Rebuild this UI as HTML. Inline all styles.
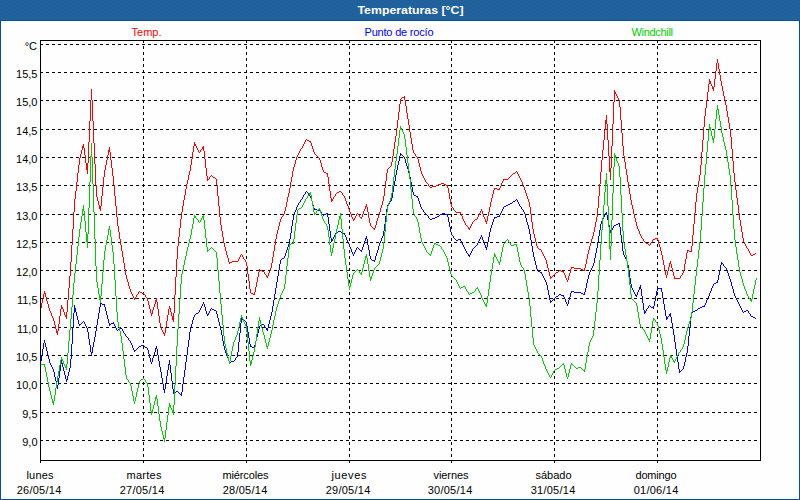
<!DOCTYPE html>
<html lang="es"><head><meta charset="utf-8"><title>Temperaturas [°C]</title>
<style>
html,body{margin:0;padding:0;background:#fff;}
body{width:800px;height:500px;overflow:hidden;position:relative;font-family:"Liberation Sans",sans-serif;}
svg{position:absolute;left:0;top:0;display:block;}
text{font-family:"Liberation Sans",sans-serif;font-size:11px;}
.t{font-weight:bold;fill:#fff;}
.k{fill:#000;}
</style></head><body>
<svg width="800" height="500" viewBox="0 0 800 500">
<rect x="0" y="0" width="800" height="500" fill="#0b5191"/>
<rect x="1" y="21" width="798" height="478" fill="#fdfefd"/>
<defs><pattern id="dz" width="8" height="4" patternUnits="userSpaceOnUse"><rect width="8" height="4" fill="#1f6198"/><rect x="1" y="0" width="1" height="1" fill="#1f64ad"/><rect x="4" y="1" width="1" height="1" fill="#1f64ad"/><rect x="6" y="2" width="1" height="1" fill="#1f64ad"/><rect x="2" y="3" width="1" height="1" fill="#1f64ad"/></pattern></defs>
<rect x="0" y="0" width="800" height="20" fill="url(#dz)" shape-rendering="crispEdges"/>
<text class="t" x="357.5" y="14" textLength="106" lengthAdjust="spacingAndGlyphs">Temperaturas [°C]</text>
<g shape-rendering="crispEdges" fill="none">
<line x1="40" y1="44.5" x2="760" y2="44.5" stroke="#000" stroke-width="1" stroke-dasharray="3 3"/>
<line x1="40" y1="72.5" x2="760" y2="72.5" stroke="#000" stroke-width="1" stroke-dasharray="3 3"/>
<line x1="40" y1="100.5" x2="760" y2="100.5" stroke="#000" stroke-width="1" stroke-dasharray="3 3"/>
<line x1="40" y1="129.5" x2="760" y2="129.5" stroke="#000" stroke-width="1" stroke-dasharray="3 3"/>
<line x1="40" y1="157.5" x2="760" y2="157.5" stroke="#000" stroke-width="1" stroke-dasharray="3 3"/>
<line x1="40" y1="185.5" x2="760" y2="185.5" stroke="#000" stroke-width="1" stroke-dasharray="3 3"/>
<line x1="40" y1="214.5" x2="760" y2="214.5" stroke="#000" stroke-width="1" stroke-dasharray="3 3"/>
<line x1="40" y1="242.5" x2="760" y2="242.5" stroke="#000" stroke-width="1" stroke-dasharray="3 3"/>
<line x1="40" y1="270.5" x2="760" y2="270.5" stroke="#000" stroke-width="1" stroke-dasharray="3 3"/>
<line x1="40" y1="298.5" x2="760" y2="298.5" stroke="#000" stroke-width="1" stroke-dasharray="3 3"/>
<line x1="40" y1="327.5" x2="760" y2="327.5" stroke="#000" stroke-width="1" stroke-dasharray="3 3"/>
<line x1="40" y1="355.5" x2="760" y2="355.5" stroke="#000" stroke-width="1" stroke-dasharray="3 3"/>
<line x1="40" y1="383.5" x2="760" y2="383.5" stroke="#000" stroke-width="1" stroke-dasharray="3 3"/>
<line x1="40" y1="412.5" x2="760" y2="412.5" stroke="#000" stroke-width="1" stroke-dasharray="3 3"/>
<line x1="40" y1="440.5" x2="760" y2="440.5" stroke="#000" stroke-width="1" stroke-dasharray="3 3"/>
<line x1="143.5" y1="40" x2="143.5" y2="460" stroke="#000" stroke-width="1" stroke-dasharray="3 3"/>
<line x1="143.5" y1="461" x2="143.5" y2="463" stroke="#000" stroke-width="1"/>
<line x1="246.5" y1="40" x2="246.5" y2="460" stroke="#000" stroke-width="1" stroke-dasharray="3 3"/>
<line x1="246.5" y1="461" x2="246.5" y2="463" stroke="#000" stroke-width="1"/>
<line x1="349.5" y1="40" x2="349.5" y2="460" stroke="#000" stroke-width="1" stroke-dasharray="3 3"/>
<line x1="349.5" y1="461" x2="349.5" y2="463" stroke="#000" stroke-width="1"/>
<line x1="451.5" y1="40" x2="451.5" y2="460" stroke="#000" stroke-width="1" stroke-dasharray="3 3"/>
<line x1="451.5" y1="461" x2="451.5" y2="463" stroke="#000" stroke-width="1"/>
<line x1="554.5" y1="40" x2="554.5" y2="460" stroke="#000" stroke-width="1" stroke-dasharray="3 3"/>
<line x1="554.5" y1="461" x2="554.5" y2="463" stroke="#000" stroke-width="1"/>
<line x1="657.5" y1="40" x2="657.5" y2="460" stroke="#000" stroke-width="1" stroke-dasharray="3 3"/>
<line x1="657.5" y1="461" x2="657.5" y2="463" stroke="#000" stroke-width="1"/>
<line x1="40.5" y1="461" x2="40.5" y2="463" stroke="#000" stroke-width="1"/>
<path fill="#ff0000" d="M41 303h1v5h-1zM42 299h1v4h-1zM43 294h1v5h-1zM44 291h1v3h-1zM45 293h1v4h-1zM46 297h1v4h-1zM47 301h1v3h-1zM48 304h1v4h-1zM49 308h1v3h-1zM50 311h1v2h-1zM51 313h1v3h-1zM52 316h1v2h-1zM53 318h1v3h-1zM54 321h1v4h-1zM55 325h1v4h-1zM56 329h1v4h-1zM57 331h1v4h-1zM58 324h1v7h-1zM59 316h1v8h-1zM60 309h1v7h-1zM61 305h1v4h-1zM62 307h1v2h-1zM63 309h1v3h-1zM64 312h1v3h-1zM65 315h1v2h-1zM66 312h1v7h-1zM67 300h1v12h-1zM68 288h1v12h-1zM69 276h1v12h-1zM70 262h1v14h-1zM71 245h1v17h-1zM72 229h1v16h-1zM73 212h1v17h-1zM74 199h1v13h-1zM75 191h1v8h-1zM76 182h1v9h-1zM77 173h1v9h-1zM78 165h1v8h-1zM79 158h1v7h-1zM80 154h1v4h-1zM81 150h1v4h-1zM82 146h1v4h-1zM83 144h1v4h-1zM84 148h1v7h-1zM85 155h1v8h-1zM86 163h1v7h-1zM87 163h1v11h-1zM88 142h1v21h-1zM89 121h1v21h-1zM90 100h1v21h-1zM91 89h1v11h-1zM92 100h1v21h-1zM93 121h1v22h-1zM94 143h1v21h-1zM95 164h1v21h-1zM96 185h1v12h-1zM97 197h1v4h-1zM98 201h1v4h-1zM99 205h1v4h-1zM100 206h1v5h-1zM101 196h1v10h-1zM102 187h1v9h-1zM103 177h1v10h-1zM104 170h1v7h-1zM105 165h1v5h-1zM106 160h1v5h-1zM107 155h1v5h-1zM108 150h1v5h-1zM109 147h1v5h-1zM110 152h1v8h-1zM111 160h1v8h-1zM112 168h1v8h-1zM113 176h1v9h-1zM114 185h1v11h-1zM115 196h1v10h-1zM116 206h1v11h-1zM117 217h1v9h-1zM118 226h1v6h-1zM119 232h1v7h-1zM120 239h1v6h-1zM121 245h1v6h-1zM122 251h1v6h-1zM123 257h1v6h-1zM124 263h1v6h-1zM125 269h1v6h-1zM126 275h1v4h-1zM127 279h1v3h-1zM128 282h1v4h-1zM129 286h1v3h-1zM130 289h1v3h-1zM131 292h1v2h-1zM132 294h1v2h-1zM133 296h1v2h-1zM134 298h1v2h-1zM135 297h1v2h-1zM136 295h1v2h-1zM137 294h1v1h-1zM138 292h1v2h-1zM139 291h1v1h-1zM140 292h1v1h-1zM141 292h1v1h-1zM142 293h1v1h-1zM143 293h1v1h-1zM144 294h1v1h-1zM145 295h1v2h-1zM146 297h1v1h-1zM147 298h1v3h-1zM148 301h1v4h-1zM149 305h1v4h-1zM150 309h1v4h-1zM151 313h1v3h-1zM152 310h1v4h-1zM153 307h1v3h-1zM154 304h1v3h-1zM155 300h1v4h-1zM156 298h1v4h-1zM157 302h1v7h-1zM158 309h1v7h-1zM159 316h1v7h-1zM160 323h1v5h-1zM161 328h1v2h-1zM162 330h1v2h-1zM163 332h1v2h-1zM164 333h1v3h-1zM165 327h1v6h-1zM166 321h1v6h-1zM167 315h1v6h-1zM168 309h1v6h-1zM169 306h1v3h-1zM170 308h1v4h-1zM171 312h1v4h-1zM172 316h1v4h-1zM173 313h1v9h-1zM174 295h1v18h-1zM175 277h1v18h-1zM176 259h1v18h-1zM177 246h1v13h-1zM178 237h1v9h-1zM179 228h1v9h-1zM180 219h1v9h-1zM181 212h1v7h-1zM182 206h1v6h-1zM183 200h1v6h-1zM184 195h1v5h-1zM185 189h1v6h-1zM186 184h1v5h-1zM187 180h1v4h-1zM188 175h1v5h-1zM189 171h1v4h-1zM190 165h1v6h-1zM191 159h1v6h-1zM192 152h1v7h-1zM193 146h1v6h-1zM194 142h1v4h-1zM195 144h1v2h-1zM196 146h1v2h-1zM197 148h1v2h-1zM198 150h1v2h-1zM199 152h1v1h-1zM200 150h1v2h-1zM201 149h1v1h-1zM202 147h1v2h-1zM203 146h1v5h-1zM204 151h1v8h-1zM205 159h1v9h-1zM206 168h1v8h-1zM207 176h1v5h-1zM208 179h1v1h-1zM209 177h1v2h-1zM210 176h1v1h-1zM211 175h1v1h-1zM212 176h1v1h-1zM213 177h1v1h-1zM214 177h1v1h-1zM215 178h1v1h-1zM216 179h1v6h-1zM217 185h1v11h-1zM218 196h1v10h-1zM219 206h1v11h-1zM220 217h1v8h-1zM221 225h1v6h-1zM222 231h1v6h-1zM223 237h1v6h-1zM224 243h1v4h-1zM225 247h1v4h-1zM226 251h1v4h-1zM227 255h1v3h-1zM228 258h1v4h-1zM229 262h1v2h-1zM230 262h1v1h-1zM231 262h1v1h-1zM232 261h1v1h-1zM233 261h1v1h-1zM234 261h1v1h-1zM235 261h1v1h-1zM236 261h1v1h-1zM237 261h1v1h-1zM238 259h1v2h-1zM239 257h1v2h-1zM240 255h1v2h-1zM241 254h1v1h-1zM242 255h1v2h-1zM243 257h1v2h-1zM244 259h1v1h-1zM245 260h1v2h-1zM246 262h1v4h-1zM247 266h1v8h-1zM248 274h1v7h-1zM249 281h1v8h-1zM250 289h1v4h-1zM251 293h1v1h-1zM252 293h1v1h-1zM253 294h1v1h-1zM254 292h1v3h-1zM255 287h1v5h-1zM256 282h1v5h-1zM257 277h1v5h-1zM258 272h1v5h-1zM259 269h1v3h-1zM260 270h1v1h-1zM261 270h1v1h-1zM262 271h1v1h-1zM263 271h1v1h-1zM264 272h1v2h-1zM265 274h1v1h-1zM266 275h1v2h-1zM267 276h1v2h-1zM268 273h1v3h-1zM269 271h1v2h-1zM270 268h1v3h-1zM271 263h1v5h-1zM272 257h1v6h-1zM273 251h1v6h-1zM274 245h1v6h-1zM275 239h1v6h-1zM276 234h1v5h-1zM277 230h1v4h-1zM278 226h1v4h-1zM279 222h1v4h-1zM280 219h1v3h-1zM281 217h1v2h-1zM282 216h1v1h-1zM283 214h1v2h-1zM284 211h1v3h-1zM285 207h1v4h-1zM286 202h1v5h-1zM287 197h1v5h-1zM288 193h1v4h-1zM289 188h1v5h-1zM290 182h1v6h-1zM291 177h1v5h-1zM292 171h1v6h-1zM293 167h1v4h-1zM294 164h1v3h-1zM295 160h1v4h-1zM296 157h1v3h-1zM297 155h1v2h-1zM298 153h1v2h-1zM299 151h1v2h-1zM300 149h1v2h-1zM301 148h1v1h-1zM302 146h1v2h-1zM303 144h1v2h-1zM304 142h1v2h-1zM305 140h1v2h-1zM306 139h1v1h-1zM307 140h1v1h-1zM308 140h1v1h-1zM309 141h1v1h-1zM310 141h1v2h-1zM311 143h1v3h-1zM312 146h1v3h-1zM313 149h1v3h-1zM314 152h1v2h-1zM315 154h1v1h-1zM316 155h1v1h-1zM317 156h1v1h-1zM318 157h1v1h-1zM319 158h1v2h-1zM320 160h1v3h-1zM321 163h1v4h-1zM322 167h1v3h-1zM323 170h1v2h-1zM324 172h1v1h-1zM325 172h1v1h-1zM326 173h1v1h-1zM327 173h1v4h-1zM328 177h1v7h-1zM329 184h1v7h-1zM330 191h1v7h-1zM331 198h1v4h-1zM332 199h1v2h-1zM333 197h1v2h-1zM334 196h1v1h-1zM335 194h1v2h-1zM336 193h1v1h-1zM337 192h1v1h-1zM338 192h1v1h-1zM339 191h1v1h-1zM340 191h1v1h-1zM341 192h1v1h-1zM342 193h1v2h-1zM343 195h1v1h-1zM344 196h1v2h-1zM345 198h1v3h-1zM346 201h1v3h-1zM347 204h1v2h-1zM348 206h1v3h-1zM349 209h1v3h-1zM350 212h1v2h-1zM351 214h1v3h-1zM352 217h1v2h-1zM353 219h1v2h-1zM354 218h1v2h-1zM355 216h1v2h-1zM356 214h1v2h-1zM357 213h1v1h-1zM358 214h1v1h-1zM359 215h1v2h-1zM360 217h1v1h-1zM361 217h1v2h-1zM362 214h1v3h-1zM363 211h1v3h-1zM364 209h1v2h-1zM365 206h1v3h-1zM366 204h1v3h-1zM367 207h1v5h-1zM368 212h1v6h-1zM369 218h1v5h-1zM370 223h1v3h-1zM371 226h1v1h-1zM372 227h1v1h-1zM373 228h1v1h-1zM374 228h1v2h-1zM375 225h1v3h-1zM376 221h1v4h-1zM377 218h1v3h-1zM378 215h1v3h-1zM379 212h1v3h-1zM380 208h1v4h-1zM381 205h1v3h-1zM382 201h1v4h-1zM383 196h1v5h-1zM384 188h1v8h-1zM385 181h1v7h-1zM386 173h1v8h-1zM387 169h1v4h-1zM388 168h1v1h-1zM389 167h1v1h-1zM390 166h1v1h-1zM391 162h1v4h-1zM392 156h1v6h-1zM393 149h1v7h-1zM394 142h1v7h-1zM395 136h1v6h-1zM396 128h1v8h-1zM397 120h1v8h-1zM398 112h1v8h-1zM399 104h1v8h-1zM400 99h1v5h-1zM401 98h1v1h-1zM402 97h1v1h-1zM403 97h1v1h-1zM404 96h1v4h-1zM405 100h1v6h-1zM406 106h1v7h-1zM407 113h1v6h-1zM408 119h1v6h-1zM409 125h1v7h-1zM410 132h1v6h-1zM411 138h1v6h-1zM412 144h1v6h-1zM413 150h1v3h-1zM414 153h1v1h-1zM415 154h1v2h-1zM416 156h1v1h-1zM417 157h1v2h-1zM418 159h1v4h-1zM419 163h1v4h-1zM420 167h1v4h-1zM421 171h1v3h-1zM422 174h1v2h-1zM423 176h1v2h-1zM424 178h1v2h-1zM425 180h1v2h-1zM426 182h1v1h-1zM427 183h1v1h-1zM428 184h1v2h-1zM429 186h1v1h-1zM430 187h1v1h-1zM431 187h1v1h-1zM432 186h1v1h-1zM433 186h1v1h-1zM434 186h1v1h-1zM435 186h1v1h-1zM436 185h1v1h-1zM437 185h1v1h-1zM438 184h1v1h-1zM439 184h1v1h-1zM440 184h1v1h-1zM441 183h1v1h-1zM442 183h1v1h-1zM443 183h1v1h-1zM444 184h1v1h-1zM445 184h1v1h-1zM446 185h1v1h-1zM447 185h1v3h-1zM448 188h1v5h-1zM449 193h1v6h-1zM450 199h1v5h-1zM451 204h1v3h-1zM452 207h1v1h-1zM453 208h1v2h-1zM454 210h1v1h-1zM455 211h1v1h-1zM456 212h1v1h-1zM457 212h1v1h-1zM458 212h1v1h-1zM459 212h1v1h-1zM460 212h1v2h-1zM461 214h1v2h-1zM462 216h1v3h-1zM463 219h1v2h-1zM464 221h1v2h-1zM465 223h1v2h-1zM466 225h1v1h-1zM467 226h1v1h-1zM468 227h1v2h-1zM469 228h1v2h-1zM470 226h1v2h-1zM471 224h1v2h-1zM472 222h1v2h-1zM473 221h1v1h-1zM474 220h1v1h-1zM475 219h1v1h-1zM476 219h1v1h-1zM477 217h1v2h-1zM478 215h1v2h-1zM479 213h1v2h-1zM480 211h1v2h-1zM481 209h1v2h-1zM482 211h1v3h-1zM483 214h1v3h-1zM484 217h1v2h-1zM485 219h1v3h-1zM486 221h1v3h-1zM487 216h1v5h-1zM488 212h1v4h-1zM489 207h1v5h-1zM490 202h1v5h-1zM491 198h1v4h-1zM492 194h1v4h-1zM493 190h1v4h-1zM494 188h1v2h-1zM495 188h1v1h-1zM496 188h1v1h-1zM497 189h1v1h-1zM498 189h1v1h-1zM499 188h1v2h-1zM500 186h1v2h-1zM501 183h1v3h-1zM502 181h1v2h-1zM503 179h1v2h-1zM504 179h1v1h-1zM505 179h1v1h-1zM506 179h1v1h-1zM507 179h1v1h-1zM508 178h1v1h-1zM509 177h1v1h-1zM510 176h1v1h-1zM511 175h1v1h-1zM512 174h1v1h-1zM513 173h1v1h-1zM514 173h1v1h-1zM515 172h1v1h-1zM516 171h1v1h-1zM517 172h1v2h-1zM518 174h1v2h-1zM519 176h1v2h-1zM520 178h1v2h-1zM521 180h1v2h-1zM522 182h1v3h-1zM523 185h1v2h-1zM524 187h1v3h-1zM525 190h1v3h-1zM526 193h1v3h-1zM527 196h1v3h-1zM528 199h1v3h-1zM529 202h1v5h-1zM530 207h1v7h-1zM531 214h1v8h-1zM532 222h1v7h-1zM533 229h1v5h-1zM534 234h1v4h-1zM535 238h1v4h-1zM536 242h1v4h-1zM537 246h1v2h-1zM538 248h1v1h-1zM539 249h1v1h-1zM540 249h1v1h-1zM541 250h1v2h-1zM542 252h1v2h-1zM543 254h1v2h-1zM544 256h1v2h-1zM545 258h1v2h-1zM546 260h1v4h-1zM547 264h1v4h-1zM548 268h1v4h-1zM549 272h1v4h-1zM550 276h1v3h-1zM551 277h1v1h-1zM552 276h1v1h-1zM553 275h1v1h-1zM554 274h1v1h-1zM555 273h1v1h-1zM556 272h1v1h-1zM557 272h1v1h-1zM558 271h1v1h-1zM559 270h1v1h-1zM560 270h1v1h-1zM561 271h1v1h-1zM562 271h1v1h-1zM563 271h1v2h-1zM564 273h1v2h-1zM565 275h1v3h-1zM566 278h1v2h-1zM567 280h1v2h-1zM568 276h1v4h-1zM569 273h1v3h-1zM570 269h1v4h-1zM571 267h1v2h-1zM572 267h1v1h-1zM573 267h1v1h-1zM574 268h1v1h-1zM575 268h1v1h-1zM576 268h1v1h-1zM577 268h1v1h-1zM578 268h1v1h-1zM579 268h1v1h-1zM580 268h1v1h-1zM581 269h1v1h-1zM582 269h1v1h-1zM583 270h1v1h-1zM584 268h1v3h-1zM585 264h1v4h-1zM586 259h1v5h-1zM587 254h1v5h-1zM588 250h1v4h-1zM589 246h1v4h-1zM590 243h1v3h-1zM591 239h1v4h-1zM592 236h1v3h-1zM593 232h1v4h-1zM594 227h1v5h-1zM595 222h1v5h-1zM596 217h1v5h-1zM597 208h1v9h-1zM598 196h1v12h-1zM599 184h1v12h-1zM600 172h1v12h-1zM601 160h1v12h-1zM602 150h1v10h-1zM603 140h1v10h-1zM604 130h1v10h-1zM605 120h1v10h-1zM606 115h1v9h-1zM607 124h1v16h-1zM608 140h1v16h-1zM609 156h1v16h-1zM610 168h1v12h-1zM611 146h1v22h-1zM612 124h1v22h-1zM613 102h1v22h-1zM614 90h1v12h-1zM615 92h1v2h-1zM616 94h1v2h-1zM617 96h1v2h-1zM618 98h1v2h-1zM619 100h1v7h-1zM620 107h1v13h-1zM621 120h1v13h-1zM622 133h1v13h-1zM623 146h1v10h-1zM624 156h1v6h-1zM625 162h1v7h-1zM626 169h1v6h-1zM627 175h1v7h-1zM628 182h1v6h-1zM629 188h1v6h-1zM630 194h1v6h-1zM631 200h1v5h-1zM632 205h1v4h-1zM633 209h1v5h-1zM634 214h1v4h-1zM635 218h1v4h-1zM636 222h1v4h-1zM637 226h1v3h-1zM638 229h1v2h-1zM639 231h1v3h-1zM640 234h1v2h-1zM641 236h1v2h-1zM642 238h1v1h-1zM643 239h1v2h-1zM644 241h1v1h-1zM645 242h1v1h-1zM646 243h1v1h-1zM647 243h1v1h-1zM648 244h1v1h-1zM649 245h1v1h-1zM650 243h1v2h-1zM651 242h1v1h-1zM652 240h1v2h-1zM653 239h1v1h-1zM654 239h1v1h-1zM655 238h1v1h-1zM656 238h1v1h-1zM657 238h1v2h-1zM658 240h1v4h-1zM659 244h1v3h-1zM660 247h1v4h-1zM661 251h1v4h-1zM662 255h1v5h-1zM663 260h1v5h-1zM664 265h1v5h-1zM665 270h1v5h-1zM666 275h1v3h-1zM667 271h1v4h-1zM668 267h1v4h-1zM669 263h1v4h-1zM670 261h1v3h-1zM671 264h1v4h-1zM672 268h1v4h-1zM673 272h1v4h-1zM674 276h1v3h-1zM675 278h1v1h-1zM676 278h1v1h-1zM677 278h1v1h-1zM678 278h1v1h-1zM679 278h1v1h-1zM680 276h1v2h-1zM681 275h1v1h-1zM682 273h1v2h-1zM683 270h1v3h-1zM684 264h1v6h-1zM685 259h1v5h-1zM686 253h1v6h-1zM687 250h1v3h-1zM688 250h1v1h-1zM689 251h1v1h-1zM690 251h1v1h-1zM691 246h1v6h-1zM692 235h1v11h-1zM693 224h1v11h-1zM694 213h1v11h-1zM695 202h1v11h-1zM696 193h1v9h-1zM697 187h1v6h-1zM698 181h1v6h-1zM699 175h1v6h-1zM700 165h1v10h-1zM701 152h1v13h-1zM702 140h1v12h-1zM703 127h1v13h-1zM704 116h1v11h-1zM705 108h1v8h-1zM706 100h1v8h-1zM707 92h1v8h-1zM708 84h1v8h-1zM709 79h1v5h-1zM710 81h1v3h-1zM711 84h1v2h-1zM712 86h1v3h-1zM713 87h1v4h-1zM714 79h1v8h-1zM715 71h1v8h-1zM716 63h1v8h-1zM717 59h1v4h-1zM718 63h1v6h-1zM719 69h1v6h-1zM720 75h1v6h-1zM721 81h1v5h-1zM722 86h1v5h-1zM723 91h1v5h-1zM724 96h1v4h-1zM725 100h1v5h-1zM726 105h1v6h-1zM727 111h1v6h-1zM728 117h1v6h-1zM729 123h1v6h-1zM730 129h1v8h-1zM731 137h1v12h-1zM732 149h1v12h-1zM733 161h1v12h-1zM734 173h1v9h-1zM735 182h1v8h-1zM736 190h1v8h-1zM737 198h1v7h-1zM738 205h1v8h-1zM739 213h1v7h-1zM740 220h1v6h-1zM741 226h1v6h-1zM742 232h1v6h-1zM743 238h1v4h-1zM744 242h1v2h-1zM745 244h1v2h-1zM746 246h1v2h-1zM747 248h1v1h-1zM748 249h1v2h-1zM749 251h1v2h-1zM750 253h1v2h-1zM751 255h1v1h-1zM752 255h1v1h-1zM753 254h1v1h-1zM754 254h1v1h-1zM755 253h1v1h-1z"/>
<path fill="#0000ff" d="M41 355h1v6h-1zM42 349h1v6h-1zM43 343h1v6h-1zM44 340h1v3h-1zM45 343h1v4h-1zM46 347h1v4h-1zM47 351h1v4h-1zM48 355h1v4h-1zM49 359h1v4h-1zM50 363h1v2h-1zM51 365h1v2h-1zM52 367h1v2h-1zM53 369h1v3h-1zM54 372h1v5h-1zM55 377h1v4h-1zM56 381h1v5h-1zM57 385h1v4h-1zM58 378h1v7h-1zM59 371h1v7h-1zM60 364h1v7h-1zM61 360h1v4h-1zM62 363h1v4h-1zM63 367h1v4h-1zM64 371h1v4h-1zM65 375h1v4h-1zM66 379h1v3h-1zM67 376h1v4h-1zM68 372h1v4h-1zM69 368h1v4h-1zM70 359h1v9h-1zM71 344h1v15h-1zM72 328h1v16h-1zM73 313h1v15h-1zM74 305h1v8h-1zM75 308h1v4h-1zM76 312h1v4h-1zM77 316h1v4h-1zM78 320h1v4h-1zM79 324h1v2h-1zM80 324h1v1h-1zM81 323h1v1h-1zM82 322h1v1h-1zM83 321h1v1h-1zM84 322h1v2h-1zM85 324h1v2h-1zM86 326h1v2h-1zM87 328h1v4h-1zM88 332h1v7h-1zM89 339h1v6h-1zM90 345h1v7h-1zM91 352h1v4h-1zM92 347h1v6h-1zM93 342h1v5h-1zM94 337h1v5h-1zM95 331h1v6h-1zM96 325h1v6h-1zM97 319h1v6h-1zM98 313h1v6h-1zM99 307h1v6h-1zM100 303h1v4h-1zM101 303h1v1h-1zM102 304h1v1h-1zM103 304h1v1h-1zM104 304h1v3h-1zM105 307h1v4h-1zM106 311h1v4h-1zM107 315h1v4h-1zM108 319h1v4h-1zM109 323h1v3h-1zM110 324h1v1h-1zM111 323h1v1h-1zM112 323h1v1h-1zM113 322h1v2h-1zM114 324h1v2h-1zM115 326h1v2h-1zM116 328h1v2h-1zM117 330h1v1h-1zM118 329h1v1h-1zM119 329h1v1h-1zM120 328h1v1h-1zM121 328h1v1h-1zM122 329h1v2h-1zM123 331h1v2h-1zM124 333h1v1h-1zM125 334h1v2h-1zM126 336h1v1h-1zM127 337h1v1h-1zM128 338h1v2h-1zM129 340h1v1h-1zM130 341h1v2h-1zM131 343h1v2h-1zM132 345h1v3h-1zM133 348h1v2h-1zM134 350h1v2h-1zM135 350h1v1h-1zM136 349h1v1h-1zM137 348h1v1h-1zM138 347h1v1h-1zM139 346h1v1h-1zM140 346h1v1h-1zM141 345h1v1h-1zM142 345h1v1h-1zM143 345h1v1h-1zM144 346h1v1h-1zM145 347h1v1h-1zM146 347h1v1h-1zM147 348h1v2h-1zM148 350h1v4h-1zM149 354h1v4h-1zM150 358h1v4h-1zM151 362h1v2h-1zM152 358h1v4h-1zM153 355h1v3h-1zM154 352h1v3h-1zM155 348h1v4h-1zM156 346h1v3h-1zM157 349h1v6h-1zM158 355h1v6h-1zM159 361h1v6h-1zM160 367h1v5h-1zM161 372h1v6h-1zM162 378h1v6h-1zM163 384h1v6h-1zM164 389h1v4h-1zM165 383h1v6h-1zM166 376h1v7h-1zM167 370h1v6h-1zM168 364h1v6h-1zM169 360h1v5h-1zM170 365h1v8h-1zM171 373h1v8h-1zM172 381h1v8h-1zM173 389h1v5h-1zM174 392h1v1h-1zM175 392h1v1h-1zM176 391h1v1h-1zM177 391h1v1h-1zM178 392h1v1h-1zM179 393h1v1h-1zM180 394h1v1h-1zM181 392h1v4h-1zM182 384h1v8h-1zM183 377h1v7h-1zM184 370h1v7h-1zM185 362h1v8h-1zM186 355h1v7h-1zM187 347h1v8h-1zM188 340h1v7h-1zM189 332h1v8h-1zM190 327h1v5h-1zM191 324h1v3h-1zM192 320h1v4h-1zM193 317h1v3h-1zM194 315h1v2h-1zM195 314h1v1h-1zM196 313h1v1h-1zM197 313h1v1h-1zM198 312h1v1h-1zM199 310h1v2h-1zM200 308h1v2h-1zM201 306h1v2h-1zM202 304h1v2h-1zM203 302h1v2h-1zM204 304h1v3h-1zM205 307h1v4h-1zM206 311h1v3h-1zM207 314h1v2h-1zM208 313h1v2h-1zM209 311h1v2h-1zM210 309h1v2h-1zM211 308h1v1h-1zM212 309h1v1h-1zM213 309h1v1h-1zM214 310h1v1h-1zM215 310h1v1h-1zM216 311h1v3h-1zM217 314h1v4h-1zM218 318h1v4h-1zM219 322h1v4h-1zM220 326h1v4h-1zM221 330h1v5h-1zM222 335h1v6h-1zM223 341h1v5h-1zM224 346h1v4h-1zM225 350h1v3h-1zM226 353h1v3h-1zM227 356h1v2h-1zM228 358h1v3h-1zM229 361h1v2h-1zM230 362h1v1h-1zM231 361h1v1h-1zM232 361h1v1h-1zM233 361h1v1h-1zM234 360h1v1h-1zM235 358h1v2h-1zM236 357h1v1h-1zM237 352h1v5h-1zM238 342h1v10h-1zM239 333h1v9h-1zM240 323h1v10h-1zM241 318h1v5h-1zM242 319h1v1h-1zM243 320h1v1h-1zM244 320h1v1h-1zM245 321h1v1h-1zM246 322h1v4h-1zM247 326h1v6h-1zM248 332h1v6h-1zM249 338h1v6h-1zM250 344h1v3h-1zM251 346h1v1h-1zM252 347h1v1h-1zM253 347h1v1h-1zM254 345h1v3h-1zM255 341h1v4h-1zM256 337h1v4h-1zM257 333h1v4h-1zM258 329h1v4h-1zM259 326h1v3h-1zM260 325h1v1h-1zM261 325h1v1h-1zM262 324h1v1h-1zM263 324h1v1h-1zM264 325h1v2h-1zM265 327h1v1h-1zM266 328h1v2h-1zM267 328h1v3h-1zM268 324h1v4h-1zM269 320h1v4h-1zM270 316h1v4h-1zM271 312h1v4h-1zM272 306h1v6h-1zM273 300h1v6h-1zM274 294h1v6h-1zM275 288h1v6h-1zM276 282h1v6h-1zM277 276h1v6h-1zM278 270h1v6h-1zM279 264h1v6h-1zM280 260h1v4h-1zM281 259h1v1h-1zM282 258h1v1h-1zM283 258h1v1h-1zM284 256h1v2h-1zM285 253h1v3h-1zM286 250h1v3h-1zM287 247h1v3h-1zM288 244h1v3h-1zM289 239h1v5h-1zM290 233h1v6h-1zM291 226h1v7h-1zM292 220h1v6h-1zM293 215h1v5h-1zM294 212h1v3h-1zM295 210h1v2h-1zM296 207h1v3h-1zM297 205h1v2h-1zM298 203h1v2h-1zM299 202h1v1h-1zM300 200h1v2h-1zM301 199h1v1h-1zM302 197h1v2h-1zM303 195h1v2h-1zM304 194h1v1h-1zM305 192h1v2h-1zM306 191h1v1h-1zM307 192h1v1h-1zM308 193h1v2h-1zM309 195h1v1h-1zM310 196h1v2h-1zM311 198h1v3h-1zM312 201h1v4h-1zM313 205h1v3h-1zM314 208h1v2h-1zM315 209h1v1h-1zM316 209h1v1h-1zM317 210h1v1h-1zM318 210h1v1h-1zM319 210h1v1h-1zM320 211h1v1h-1zM321 212h1v2h-1zM322 214h1v1h-1zM323 215h1v1h-1zM324 214h1v1h-1zM325 214h1v1h-1zM326 213h1v1h-1zM327 213h1v4h-1zM328 217h1v7h-1zM329 224h1v7h-1zM330 231h1v7h-1zM331 238h1v4h-1zM332 239h1v2h-1zM333 237h1v2h-1zM334 235h1v2h-1zM335 233h1v2h-1zM336 232h1v1h-1zM337 232h1v1h-1zM338 231h1v1h-1zM339 231h1v1h-1zM340 231h1v1h-1zM341 232h1v1h-1zM342 232h1v1h-1zM343 233h1v1h-1zM344 233h1v2h-1zM345 235h1v2h-1zM346 237h1v3h-1zM347 240h1v2h-1zM348 242h1v2h-1zM349 244h1v3h-1zM350 247h1v2h-1zM351 249h1v3h-1zM352 252h1v2h-1zM353 254h1v2h-1zM354 252h1v2h-1zM355 250h1v2h-1zM356 248h1v2h-1zM357 247h1v1h-1zM358 248h1v1h-1zM359 249h1v1h-1zM360 250h1v1h-1zM361 250h1v2h-1zM362 247h1v3h-1zM363 244h1v3h-1zM364 241h1v3h-1zM365 238h1v3h-1zM366 236h1v3h-1zM367 239h1v6h-1zM368 245h1v5h-1zM369 250h1v6h-1zM370 256h1v3h-1zM371 259h1v1h-1zM372 260h1v1h-1zM373 260h1v1h-1zM374 260h1v2h-1zM375 256h1v4h-1zM376 253h1v3h-1zM377 250h1v3h-1zM378 246h1v4h-1zM379 243h1v3h-1zM380 241h1v2h-1zM381 238h1v3h-1zM382 236h1v2h-1zM383 231h1v5h-1zM384 224h1v7h-1zM385 216h1v8h-1zM386 209h1v7h-1zM387 205h1v4h-1zM388 204h1v1h-1zM389 202h1v2h-1zM390 201h1v1h-1zM391 198h1v3h-1zM392 192h1v6h-1zM393 186h1v6h-1zM394 181h1v5h-1zM395 175h1v6h-1zM396 170h1v5h-1zM397 165h1v5h-1zM398 161h1v4h-1zM399 156h1v5h-1zM400 153h1v3h-1zM401 154h1v1h-1zM402 155h1v1h-1zM403 156h1v1h-1zM404 157h1v2h-1zM405 159h1v4h-1zM406 163h1v3h-1zM407 166h1v3h-1zM408 169h1v4h-1zM409 173h1v4h-1zM410 177h1v5h-1zM411 182h1v5h-1zM412 187h1v5h-1zM413 192h1v3h-1zM414 195h1v1h-1zM415 195h1v1h-1zM416 196h1v1h-1zM417 196h1v2h-1zM418 198h1v3h-1zM419 201h1v3h-1zM420 204h1v3h-1zM421 207h1v2h-1zM422 209h1v1h-1zM423 210h1v2h-1zM424 212h1v1h-1zM425 213h1v1h-1zM426 214h1v1h-1zM427 215h1v1h-1zM428 216h1v2h-1zM429 218h1v1h-1zM430 219h1v1h-1zM431 219h1v1h-1zM432 218h1v1h-1zM433 218h1v1h-1zM434 218h1v1h-1zM435 217h1v1h-1zM436 217h1v1h-1zM437 216h1v1h-1zM438 216h1v1h-1zM439 215h1v1h-1zM440 214h1v1h-1zM441 214h1v1h-1zM442 213h1v1h-1zM443 213h1v1h-1zM444 213h1v1h-1zM445 214h1v1h-1zM446 214h1v1h-1zM447 214h1v3h-1zM448 217h1v5h-1zM449 222h1v5h-1zM450 227h1v5h-1zM451 232h1v3h-1zM452 235h1v1h-1zM453 236h1v2h-1zM454 238h1v1h-1zM455 239h1v1h-1zM456 240h1v1h-1zM457 240h1v1h-1zM458 239h1v1h-1zM459 239h1v1h-1zM460 239h1v2h-1zM461 241h1v2h-1zM462 243h1v2h-1zM463 245h1v2h-1zM464 247h1v2h-1zM465 249h1v2h-1zM466 251h1v2h-1zM467 253h1v1h-1zM468 254h1v2h-1zM469 255h1v2h-1zM470 253h1v2h-1zM471 251h1v2h-1zM472 249h1v2h-1zM473 248h1v1h-1zM474 247h1v1h-1zM475 246h1v1h-1zM476 245h1v1h-1zM477 243h1v2h-1zM478 241h1v2h-1zM479 239h1v2h-1zM480 237h1v2h-1zM481 235h1v2h-1zM482 237h1v3h-1zM483 240h1v3h-1zM484 243h1v2h-1zM485 245h1v3h-1zM486 247h1v3h-1zM487 242h1v5h-1zM488 237h1v5h-1zM489 232h1v5h-1zM490 228h1v4h-1zM491 225h1v3h-1zM492 222h1v3h-1zM493 219h1v3h-1zM494 217h1v2h-1zM495 217h1v1h-1zM496 217h1v1h-1zM497 216h1v1h-1zM498 216h1v1h-1zM499 215h1v2h-1zM500 213h1v2h-1zM501 211h1v2h-1zM502 209h1v2h-1zM503 207h1v2h-1zM504 206h1v1h-1zM505 206h1v1h-1zM506 205h1v1h-1zM507 205h1v1h-1zM508 204h1v1h-1zM509 204h1v1h-1zM510 203h1v1h-1zM511 203h1v1h-1zM512 202h1v1h-1zM513 201h1v1h-1zM514 201h1v1h-1zM515 200h1v1h-1zM516 199h1v1h-1zM517 200h1v2h-1zM518 202h1v2h-1zM519 204h1v2h-1zM520 206h1v1h-1zM521 207h1v2h-1zM522 209h1v1h-1zM523 210h1v2h-1zM524 212h1v2h-1zM525 214h1v4h-1zM526 218h1v4h-1zM527 222h1v3h-1zM528 225h1v4h-1zM529 229h1v5h-1zM530 234h1v6h-1zM531 240h1v6h-1zM532 246h1v6h-1zM533 252h1v5h-1zM534 257h1v4h-1zM535 261h1v4h-1zM536 265h1v4h-1zM537 269h1v2h-1zM538 271h1v1h-1zM539 271h1v1h-1zM540 272h1v1h-1zM541 272h1v2h-1zM542 274h1v2h-1zM543 276h1v2h-1zM544 278h1v2h-1zM545 280h1v2h-1zM546 282h1v3h-1zM547 285h1v5h-1zM548 290h1v5h-1zM549 295h1v5h-1zM550 300h1v3h-1zM551 301h1v1h-1zM552 300h1v1h-1zM553 299h1v1h-1zM554 298h1v1h-1zM555 297h1v1h-1zM556 296h1v1h-1zM557 296h1v1h-1zM558 295h1v1h-1zM559 294h1v1h-1zM560 294h1v1h-1zM561 295h1v1h-1zM562 295h1v1h-1zM563 295h1v2h-1zM564 297h1v2h-1zM565 299h1v3h-1zM566 302h1v2h-1zM567 304h1v2h-1zM568 300h1v4h-1zM569 297h1v3h-1zM570 293h1v4h-1zM571 291h1v2h-1zM572 291h1v1h-1zM573 291h1v1h-1zM574 292h1v1h-1zM575 292h1v1h-1zM576 292h1v1h-1zM577 292h1v1h-1zM578 292h1v1h-1zM579 292h1v1h-1zM580 292h1v1h-1zM581 293h1v1h-1zM582 293h1v1h-1zM583 294h1v1h-1zM584 292h1v3h-1zM585 288h1v4h-1zM586 283h1v5h-1zM587 279h1v4h-1zM588 275h1v4h-1zM589 272h1v3h-1zM590 270h1v2h-1zM591 268h1v2h-1zM592 266h1v2h-1zM593 263h1v3h-1zM594 258h1v5h-1zM595 253h1v5h-1zM596 248h1v5h-1zM597 242h1v6h-1zM598 236h1v6h-1zM599 230h1v6h-1zM600 224h1v6h-1zM601 221h1v3h-1zM602 219h1v2h-1zM603 217h1v2h-1zM604 215h1v2h-1zM605 213h1v2h-1zM606 212h1v3h-1zM607 215h1v5h-1zM608 220h1v5h-1zM609 225h1v5h-1zM610 230h1v3h-1zM611 230h1v2h-1zM612 228h1v2h-1zM613 226h1v2h-1zM614 225h1v1h-1zM615 225h1v1h-1zM616 224h1v1h-1zM617 224h1v1h-1zM618 223h1v1h-1zM619 223h1v4h-1zM620 227h1v8h-1zM621 235h1v8h-1zM622 243h1v8h-1zM623 251h1v4h-1zM624 255h1v2h-1zM625 257h1v2h-1zM626 259h1v2h-1zM627 261h1v4h-1zM628 265h1v6h-1zM629 271h1v7h-1zM630 278h1v6h-1zM631 284h1v4h-1zM632 288h1v2h-1zM633 290h1v2h-1zM634 292h1v2h-1zM635 294h1v2h-1zM636 295h1v2h-1zM637 292h1v3h-1zM638 290h1v2h-1zM639 287h1v3h-1zM640 285h1v4h-1zM641 289h1v7h-1zM642 296h1v7h-1zM643 303h1v7h-1zM644 310h1v4h-1zM645 311h1v2h-1zM646 309h1v2h-1zM647 308h1v1h-1zM648 306h1v2h-1zM649 305h1v1h-1zM650 306h1v1h-1zM651 307h1v1h-1zM652 307h1v1h-1zM653 306h1v3h-1zM654 301h1v5h-1zM655 296h1v5h-1zM656 291h1v5h-1zM657 288h1v3h-1zM658 288h1v1h-1zM659 288h1v1h-1zM660 288h1v1h-1zM661 288h1v4h-1zM662 292h1v6h-1zM663 298h1v6h-1zM664 304h1v6h-1zM665 310h1v6h-1zM666 316h1v4h-1zM667 317h1v2h-1zM668 316h1v1h-1zM669 314h1v2h-1zM670 313h1v4h-1zM671 317h1v6h-1zM672 323h1v6h-1zM673 329h1v6h-1zM674 335h1v7h-1zM675 342h1v7h-1zM676 349h1v7h-1zM677 356h1v6h-1zM678 362h1v7h-1zM679 369h1v4h-1zM680 371h1v1h-1zM681 370h1v1h-1zM682 369h1v1h-1zM683 366h1v3h-1zM684 362h1v4h-1zM685 357h1v5h-1zM686 353h1v4h-1zM687 346h1v7h-1zM688 336h1v10h-1zM689 327h1v9h-1zM690 317h1v10h-1zM691 312h1v5h-1zM692 312h1v1h-1zM693 311h1v1h-1zM694 311h1v1h-1zM695 310h1v1h-1zM696 310h1v1h-1zM697 309h1v1h-1zM698 308h1v1h-1zM699 308h1v1h-1zM700 307h1v1h-1zM701 307h1v1h-1zM702 306h1v1h-1zM703 306h1v1h-1zM704 305h1v2h-1zM705 303h1v2h-1zM706 300h1v3h-1zM707 298h1v2h-1zM708 296h1v2h-1zM709 293h1v3h-1zM710 291h1v2h-1zM711 288h1v3h-1zM712 286h1v2h-1zM713 284h1v2h-1zM714 283h1v1h-1zM715 283h1v1h-1zM716 282h1v1h-1zM717 280h1v3h-1zM718 275h1v5h-1zM719 270h1v5h-1zM720 265h1v5h-1zM721 262h1v3h-1zM722 263h1v1h-1zM723 264h1v2h-1zM724 266h1v1h-1zM725 267h1v1h-1zM726 268h1v2h-1zM727 270h1v3h-1zM728 273h1v3h-1zM729 276h1v3h-1zM730 279h1v3h-1zM731 282h1v4h-1zM732 286h1v3h-1zM733 289h1v4h-1zM734 293h1v3h-1zM735 296h1v2h-1zM736 298h1v2h-1zM737 300h1v2h-1zM738 302h1v2h-1zM739 304h1v2h-1zM740 306h1v2h-1zM741 308h1v2h-1zM742 310h1v2h-1zM743 312h1v1h-1zM744 311h1v1h-1zM745 311h1v1h-1zM746 310h1v1h-1zM747 310h1v1h-1zM748 311h1v2h-1zM749 313h1v1h-1zM750 314h1v2h-1zM751 316h1v1h-1zM752 316h1v1h-1zM753 317h1v1h-1zM754 317h1v1h-1zM755 318h1v1h-1z"/>
<path fill="#00cc00" d="M41 364h1v1h-1zM42 364h1v1h-1zM43 364h1v1h-1zM44 364h1v3h-1zM45 367h1v5h-1zM46 372h1v5h-1zM47 377h1v5h-1zM48 382h1v5h-1zM49 387h1v4h-1zM50 391h1v4h-1zM51 395h1v4h-1zM52 399h1v4h-1zM53 401h1v4h-1zM54 395h1v6h-1zM55 388h1v7h-1zM56 382h1v6h-1zM57 376h1v6h-1zM58 371h1v5h-1zM59 365h1v6h-1zM60 360h1v5h-1zM61 357h1v3h-1zM62 359h1v2h-1zM63 361h1v3h-1zM64 364h1v2h-1zM65 366h1v2h-1zM66 364h1v6h-1zM67 353h1v11h-1zM68 341h1v12h-1zM69 330h1v11h-1zM70 319h1v11h-1zM71 307h1v12h-1zM72 295h1v12h-1zM73 283h1v12h-1zM74 273h1v10h-1zM75 264h1v9h-1zM76 255h1v9h-1zM77 246h1v9h-1zM78 237h1v9h-1zM79 229h1v8h-1zM80 222h1v7h-1zM81 216h1v6h-1zM82 209h1v7h-1zM83 205h1v6h-1zM84 211h1v10h-1zM85 221h1v11h-1zM86 232h1v10h-1zM87 234h1v14h-1zM88 208h1v26h-1zM89 182h1v26h-1zM90 156h1v26h-1zM91 143h1v14h-1zM92 157h1v27h-1zM93 184h1v28h-1zM94 212h1v27h-1zM95 239h1v27h-1zM96 266h1v16h-1zM97 282h1v6h-1zM98 288h1v6h-1zM99 294h1v6h-1zM100 296h1v7h-1zM101 284h1v12h-1zM102 272h1v12h-1zM103 260h1v12h-1zM104 251h1v9h-1zM105 245h1v6h-1zM106 240h1v5h-1zM107 235h1v5h-1zM108 229h1v6h-1zM109 226h1v4h-1zM110 230h1v7h-1zM111 237h1v8h-1zM112 245h1v7h-1zM113 252h1v12h-1zM114 264h1v16h-1zM115 280h1v16h-1zM116 296h1v16h-1zM117 312h1v10h-1zM118 322h1v5h-1zM119 327h1v4h-1zM120 331h1v5h-1zM121 336h1v7h-1zM122 343h1v8h-1zM123 351h1v8h-1zM124 359h1v8h-1zM125 367h1v8h-1zM126 375h1v4h-1zM127 379h1v1h-1zM128 380h1v2h-1zM129 382h1v1h-1zM130 383h1v3h-1zM131 386h1v5h-1zM132 391h1v5h-1zM133 396h1v5h-1zM134 401h1v3h-1zM135 397h1v4h-1zM136 392h1v5h-1zM137 388h1v4h-1zM138 384h1v4h-1zM139 381h1v3h-1zM140 380h1v1h-1zM141 379h1v1h-1zM142 379h1v1h-1zM143 378h1v1h-1zM144 379h1v1h-1zM145 380h1v2h-1zM146 382h1v1h-1zM147 383h1v4h-1zM148 387h1v8h-1zM149 395h1v8h-1zM150 403h1v8h-1zM151 411h1v4h-1zM152 409h1v4h-1zM153 405h1v4h-1zM154 401h1v4h-1zM155 397h1v4h-1zM156 395h1v4h-1zM157 399h1v7h-1zM158 406h1v8h-1zM159 414h1v7h-1zM160 421h1v6h-1zM161 427h1v4h-1zM162 431h1v4h-1zM163 435h1v4h-1zM164 438h1v4h-1zM165 430h1v8h-1zM166 422h1v8h-1zM167 415h1v7h-1zM168 407h1v8h-1zM169 403h1v4h-1zM170 405h1v3h-1zM171 408h1v2h-1zM172 410h1v3h-1zM173 405h1v10h-1zM174 385h1v20h-1zM175 366h1v19h-1zM176 346h1v20h-1zM177 329h1v17h-1zM178 314h1v15h-1zM179 299h1v15h-1zM180 284h1v15h-1zM181 274h1v10h-1zM182 270h1v4h-1zM183 265h1v5h-1zM184 260h1v5h-1zM185 256h1v4h-1zM186 251h1v5h-1zM187 247h1v4h-1zM188 243h1v4h-1zM189 239h1v4h-1zM190 235h1v4h-1zM191 229h1v6h-1zM192 224h1v5h-1zM193 218h1v6h-1zM194 215h1v3h-1zM195 216h1v2h-1zM196 218h1v1h-1zM197 219h1v1h-1zM198 220h1v2h-1zM199 222h1v1h-1zM200 220h1v2h-1zM201 218h1v2h-1zM202 216h1v2h-1zM203 215h1v5h-1zM204 220h1v9h-1zM205 229h1v9h-1zM206 238h1v9h-1zM207 247h1v5h-1zM208 250h1v1h-1zM209 249h1v1h-1zM210 248h1v1h-1zM211 247h1v1h-1zM212 248h1v1h-1zM213 249h1v1h-1zM214 250h1v1h-1zM215 251h1v1h-1zM216 252h1v6h-1zM217 258h1v12h-1zM218 270h1v11h-1zM219 281h1v12h-1zM220 293h1v11h-1zM221 304h1v11h-1zM222 315h1v10h-1zM223 325h1v11h-1zM224 336h1v8h-1zM225 344h1v4h-1zM226 348h1v5h-1zM227 353h1v4h-1zM228 357h1v4h-1zM229 361h1v3h-1zM230 356h1v5h-1zM231 351h1v5h-1zM232 346h1v5h-1zM233 342h1v4h-1zM234 340h1v2h-1zM235 337h1v3h-1zM236 335h1v2h-1zM237 331h1v4h-1zM238 327h1v4h-1zM239 322h1v5h-1zM240 318h1v4h-1zM241 315h1v3h-1zM242 317h1v2h-1zM243 319h1v3h-1zM244 322h1v2h-1zM245 324h1v2h-1zM246 326h1v6h-1zM247 332h1v10h-1zM248 342h1v9h-1zM249 351h1v10h-1zM250 361h1v5h-1zM251 360h1v4h-1zM252 356h1v4h-1zM253 352h1v4h-1zM254 347h1v5h-1zM255 341h1v6h-1zM256 334h1v7h-1zM257 327h1v7h-1zM258 321h1v6h-1zM259 317h1v4h-1zM260 320h1v4h-1zM261 324h1v4h-1zM262 328h1v4h-1zM263 332h1v3h-1zM264 335h1v4h-1zM265 339h1v4h-1zM266 343h1v4h-1zM267 346h1v3h-1zM268 342h1v4h-1zM269 338h1v4h-1zM270 334h1v4h-1zM271 330h1v4h-1zM272 325h1v5h-1zM273 320h1v5h-1zM274 316h1v4h-1zM275 311h1v5h-1zM276 307h1v4h-1zM277 304h1v3h-1zM278 301h1v3h-1zM279 298h1v3h-1zM280 295h1v3h-1zM281 293h1v2h-1zM282 291h1v2h-1zM283 289h1v2h-1zM284 284h1v5h-1zM285 275h1v9h-1zM286 266h1v9h-1zM287 258h1v8h-1zM288 249h1v9h-1zM289 244h1v5h-1zM290 244h1v1h-1zM291 243h1v1h-1zM292 243h1v1h-1zM293 239h1v5h-1zM294 231h1v8h-1zM295 223h1v8h-1zM296 215h1v8h-1zM297 210h1v5h-1zM298 209h1v1h-1zM299 208h1v1h-1zM300 208h1v1h-1zM301 207h1v1h-1zM302 205h1v2h-1zM303 203h1v2h-1zM304 201h1v2h-1zM305 199h1v2h-1zM306 198h1v1h-1zM307 196h1v2h-1zM308 195h1v1h-1zM309 193h1v2h-1zM310 192h1v3h-1zM311 195h1v6h-1zM312 201h1v5h-1zM313 206h1v6h-1zM314 212h1v3h-1zM315 213h1v1h-1zM316 211h1v2h-1zM317 210h1v1h-1zM318 209h1v1h-1zM319 208h1v2h-1zM320 210h1v3h-1zM321 213h1v3h-1zM322 216h1v3h-1zM323 219h1v2h-1zM324 221h1v2h-1zM325 223h1v1h-1zM326 224h1v2h-1zM327 226h1v4h-1zM328 230h1v7h-1zM329 237h1v8h-1zM330 245h1v7h-1zM331 252h1v4h-1zM332 248h1v5h-1zM333 243h1v5h-1zM334 239h1v4h-1zM335 234h1v5h-1zM336 229h1v5h-1zM337 225h1v4h-1zM338 220h1v5h-1zM339 216h1v4h-1zM340 213h1v6h-1zM341 219h1v10h-1zM342 229h1v10h-1zM343 239h1v10h-1zM344 249h1v9h-1zM345 258h1v7h-1zM346 265h1v7h-1zM347 272h1v7h-1zM348 279h1v7h-1zM349 286h1v4h-1zM350 283h1v4h-1zM351 279h1v4h-1zM352 275h1v4h-1zM353 273h1v2h-1zM354 272h1v1h-1zM355 271h1v1h-1zM356 270h1v1h-1zM357 269h1v1h-1zM358 270h1v1h-1zM359 271h1v2h-1zM360 273h1v1h-1zM361 272h1v3h-1zM362 268h1v4h-1zM363 264h1v4h-1zM364 260h1v4h-1zM365 256h1v4h-1zM366 254h1v4h-1zM367 258h1v6h-1zM368 264h1v7h-1zM369 271h1v6h-1zM370 277h1v4h-1zM371 276h1v3h-1zM372 273h1v3h-1zM373 270h1v3h-1zM374 268h1v2h-1zM375 267h1v1h-1zM376 266h1v1h-1zM377 265h1v1h-1zM378 264h1v1h-1zM379 261h1v3h-1zM380 257h1v4h-1zM381 253h1v4h-1zM382 249h1v4h-1zM383 242h1v7h-1zM384 232h1v10h-1zM385 222h1v10h-1zM386 212h1v10h-1zM387 206h1v6h-1zM388 203h1v3h-1zM389 201h1v2h-1zM390 198h1v3h-1zM391 193h1v5h-1zM392 185h1v8h-1zM393 177h1v8h-1zM394 169h1v8h-1zM395 161h1v8h-1zM396 154h1v7h-1zM397 146h1v8h-1zM398 138h1v8h-1zM399 130h1v8h-1zM400 126h1v4h-1zM401 128h1v2h-1zM402 130h1v2h-1zM403 132h1v2h-1zM404 134h1v5h-1zM405 139h1v8h-1zM406 147h1v8h-1zM407 155h1v8h-1zM408 163h1v8h-1zM409 171h1v8h-1zM410 179h1v10h-1zM411 189h1v10h-1zM412 199h1v10h-1zM413 209h1v5h-1zM414 214h1v2h-1zM415 216h1v1h-1zM416 217h1v2h-1zM417 219h1v3h-1zM418 222h1v5h-1zM419 227h1v6h-1zM420 233h1v5h-1zM421 238h1v4h-1zM422 242h1v2h-1zM423 244h1v2h-1zM424 246h1v2h-1zM425 248h1v2h-1zM426 250h1v2h-1zM427 252h1v1h-1zM428 253h1v1h-1zM429 254h1v1h-1zM430 254h1v2h-1zM431 251h1v3h-1zM432 248h1v3h-1zM433 245h1v3h-1zM434 243h1v2h-1zM435 243h1v1h-1zM436 244h1v1h-1zM437 244h1v1h-1zM438 245h1v1h-1zM439 245h1v1h-1zM440 246h1v1h-1zM441 247h1v2h-1zM442 249h1v1h-1zM443 250h1v2h-1zM444 252h1v2h-1zM445 254h1v2h-1zM446 256h1v2h-1zM447 258h1v4h-1zM448 262h1v4h-1zM449 266h1v4h-1zM450 270h1v4h-1zM451 274h1v2h-1zM452 276h1v1h-1zM453 277h1v1h-1zM454 278h1v1h-1zM455 279h1v1h-1zM456 280h1v2h-1zM457 282h1v2h-1zM458 284h1v2h-1zM459 286h1v2h-1zM460 288h1v1h-1zM461 287h1v1h-1zM462 287h1v1h-1zM463 286h1v1h-1zM464 286h1v1h-1zM465 287h1v2h-1zM466 289h1v2h-1zM467 291h1v1h-1zM468 292h1v2h-1zM469 294h1v1h-1zM470 293h1v1h-1zM471 293h1v1h-1zM472 292h1v1h-1zM473 292h1v1h-1zM474 291h1v1h-1zM475 289h1v2h-1zM476 288h1v1h-1zM477 287h1v2h-1zM478 289h1v2h-1zM479 291h1v2h-1zM480 293h1v2h-1zM481 295h1v3h-1zM482 298h1v2h-1zM483 300h1v2h-1zM484 302h1v2h-1zM485 304h1v2h-1zM486 303h1v4h-1zM487 296h1v7h-1zM488 289h1v7h-1zM489 282h1v7h-1zM490 275h1v7h-1zM491 269h1v6h-1zM492 263h1v6h-1zM493 257h1v6h-1zM494 253h1v4h-1zM495 255h1v2h-1zM496 257h1v2h-1zM497 259h1v2h-1zM498 261h1v2h-1zM499 262h1v3h-1zM500 257h1v5h-1zM501 252h1v5h-1zM502 247h1v5h-1zM503 244h1v3h-1zM504 243h1v1h-1zM505 241h1v2h-1zM506 240h1v1h-1zM507 239h1v1h-1zM508 240h1v2h-1zM509 242h1v1h-1zM510 243h1v2h-1zM511 245h1v1h-1zM512 245h1v1h-1zM513 245h1v1h-1zM514 244h1v1h-1zM515 244h1v1h-1zM516 244h1v3h-1zM517 247h1v5h-1zM518 252h1v5h-1zM519 257h1v5h-1zM520 262h1v3h-1zM521 265h1v2h-1zM522 267h1v1h-1zM523 268h1v2h-1zM524 270h1v4h-1zM525 274h1v6h-1zM526 280h1v6h-1zM527 286h1v6h-1zM528 292h1v6h-1zM529 298h1v8h-1zM530 306h1v11h-1zM531 317h1v10h-1zM532 327h1v11h-1zM533 338h1v7h-1zM534 345h1v2h-1zM535 347h1v2h-1zM536 349h1v2h-1zM537 351h1v2h-1zM538 353h1v1h-1zM539 354h1v1h-1zM540 355h1v1h-1zM541 356h1v2h-1zM542 358h1v3h-1zM543 361h1v3h-1zM544 364h1v2h-1zM545 366h1v3h-1zM546 369h1v2h-1zM547 371h1v2h-1zM548 373h1v2h-1zM549 375h1v2h-1zM550 377h1v1h-1zM551 375h1v2h-1zM552 373h1v2h-1zM553 371h1v2h-1zM554 370h1v1h-1zM555 369h1v1h-1zM556 369h1v1h-1zM557 368h1v1h-1zM558 368h1v1h-1zM559 367h1v1h-1zM560 366h1v1h-1zM561 365h1v1h-1zM562 364h1v1h-1zM563 363h1v2h-1zM564 365h1v4h-1zM565 369h1v4h-1zM566 373h1v4h-1zM567 377h1v2h-1zM568 373h1v4h-1zM569 369h1v4h-1zM570 365h1v4h-1zM571 363h1v2h-1zM572 364h1v1h-1zM573 365h1v1h-1zM574 366h1v1h-1zM575 367h1v1h-1zM576 368h1v1h-1zM577 368h1v1h-1zM578 367h1v1h-1zM579 367h1v1h-1zM580 367h1v1h-1zM581 368h1v1h-1zM582 369h1v1h-1zM583 370h1v1h-1zM584 369h1v3h-1zM585 363h1v6h-1zM586 357h1v6h-1zM587 352h1v5h-1zM588 346h1v6h-1zM589 342h1v4h-1zM590 340h1v2h-1zM591 338h1v2h-1zM592 336h1v2h-1zM593 330h1v6h-1zM594 321h1v9h-1zM595 312h1v9h-1zM596 303h1v9h-1zM597 291h1v12h-1zM598 275h1v16h-1zM599 260h1v15h-1zM600 244h1v16h-1zM601 230h1v14h-1zM602 218h1v12h-1zM603 205h1v13h-1zM604 192h1v13h-1zM605 180h1v12h-1zM606 173h1v11h-1zM607 184h1v22h-1zM608 206h1v21h-1zM609 227h1v22h-1zM610 246h1v14h-1zM611 220h1v26h-1zM612 193h1v27h-1zM613 167h1v26h-1zM614 153h1v14h-1zM615 155h1v3h-1zM616 158h1v3h-1zM617 161h1v2h-1zM618 163h1v3h-1zM619 166h1v11h-1zM620 177h1v18h-1zM621 195h1v18h-1zM622 213h1v18h-1zM623 231h1v12h-1zM624 243h1v6h-1zM625 249h1v6h-1zM626 255h1v6h-1zM627 261h1v7h-1zM628 268h1v9h-1zM629 277h1v8h-1zM630 285h1v9h-1zM631 294h1v5h-1zM632 299h1v1h-1zM633 300h1v1h-1zM634 301h1v1h-1zM635 302h1v1h-1zM636 303h1v3h-1zM637 306h1v6h-1zM638 312h1v6h-1zM639 318h1v6h-1zM640 324h1v3h-1zM641 327h1v1h-1zM642 328h1v1h-1zM643 329h1v1h-1zM644 330h1v2h-1zM645 332h1v2h-1zM646 334h1v2h-1zM647 336h1v2h-1zM648 338h1v2h-1zM649 339h1v3h-1zM650 333h1v6h-1zM651 327h1v6h-1zM652 321h1v6h-1zM653 318h1v3h-1zM654 319h1v1h-1zM655 320h1v2h-1zM656 322h1v1h-1zM657 323h1v3h-1zM658 326h1v4h-1zM659 330h1v4h-1zM660 334h1v4h-1zM661 338h1v6h-1zM662 344h1v6h-1zM663 350h1v7h-1zM664 357h1v7h-1zM665 364h1v6h-1zM666 370h1v4h-1zM667 367h1v4h-1zM668 362h1v5h-1zM669 358h1v4h-1zM670 355h1v3h-1zM671 356h1v2h-1zM672 358h1v2h-1zM673 360h1v2h-1zM674 361h1v2h-1zM675 359h1v2h-1zM676 357h1v2h-1zM677 355h1v2h-1zM678 353h1v2h-1zM679 352h1v1h-1zM680 350h1v2h-1zM681 349h1v1h-1zM682 347h1v2h-1zM683 344h1v3h-1zM684 340h1v4h-1zM685 335h1v5h-1zM686 331h1v4h-1zM687 327h1v4h-1zM688 324h1v3h-1zM689 321h1v3h-1zM690 318h1v3h-1zM691 312h1v6h-1zM692 303h1v9h-1zM693 294h1v9h-1zM694 285h1v9h-1zM695 276h1v9h-1zM696 267h1v9h-1zM697 259h1v8h-1zM698 250h1v9h-1zM699 242h1v8h-1zM700 230h1v12h-1zM701 216h1v14h-1zM702 202h1v14h-1zM703 188h1v14h-1zM704 175h1v13h-1zM705 164h1v11h-1zM706 152h1v12h-1zM707 141h1v11h-1zM708 130h1v11h-1zM709 124h1v6h-1zM710 127h1v4h-1zM711 131h1v5h-1zM712 136h1v4h-1zM713 138h1v5h-1zM714 129h1v9h-1zM715 119h1v10h-1zM716 110h1v9h-1zM717 105h1v5h-1zM718 109h1v6h-1zM719 115h1v6h-1zM720 121h1v6h-1zM721 127h1v6h-1zM722 133h1v4h-1zM723 137h1v5h-1zM724 142h1v4h-1zM725 146h1v4h-1zM726 150h1v6h-1zM727 156h1v6h-1zM728 162h1v7h-1zM729 169h1v6h-1zM730 175h1v11h-1zM731 186h1v14h-1zM732 200h1v15h-1zM733 215h1v14h-1zM734 229h1v11h-1zM735 240h1v7h-1zM736 247h1v7h-1zM737 254h1v6h-1zM738 260h1v7h-1zM739 267h1v5h-1zM740 272h1v4h-1zM741 276h1v3h-1zM742 279h1v4h-1zM743 283h1v3h-1zM744 286h1v3h-1zM745 289h1v2h-1zM746 291h1v3h-1zM747 294h1v2h-1zM748 296h1v2h-1zM749 298h1v1h-1zM750 299h1v2h-1zM751 299h1v3h-1zM752 294h1v5h-1zM753 289h1v5h-1zM754 285h1v4h-1zM755 280h1v5h-1zM756 278h1v2h-1z"/>
<rect x="40.5" y="40.5" width="720" height="420" stroke="#000" stroke-width="1"/>
</g>
<text x="131.5" y="36" fill="#ff0000" textLength="30" lengthAdjust="spacing">Temp.</text>
<text x="364.5" y="36" fill="#0000ff" textLength="69" lengthAdjust="spacing">Punto de rocío</text>
<text x="631.5" y="36" fill="#00cc00" textLength="41.5" lengthAdjust="spacing">Windchill</text>
<text class="k" x="37" y="49.5" text-anchor="end">°C</text>
<text class="k" x="37.5" y="77.5" text-anchor="end">15,5</text>
<text class="k" x="37.5" y="105.5" text-anchor="end">15,0</text>
<text class="k" x="37.5" y="134.5" text-anchor="end">14,5</text>
<text class="k" x="37.5" y="162.5" text-anchor="end">14,0</text>
<text class="k" x="37.5" y="190.5" text-anchor="end">13,5</text>
<text class="k" x="37.5" y="219.5" text-anchor="end">13,0</text>
<text class="k" x="37.5" y="247.5" text-anchor="end">12,5</text>
<text class="k" x="37.5" y="275.5" text-anchor="end">12,0</text>
<text class="k" x="37.5" y="303.5" text-anchor="end">11,5</text>
<text class="k" x="37.5" y="332.5" text-anchor="end">11,0</text>
<text class="k" x="37.5" y="360.5" text-anchor="end">10,5</text>
<text class="k" x="37.5" y="388.5" text-anchor="end">10,0</text>
<text class="k" x="37.5" y="417.5" text-anchor="end">9,5</text>
<text class="k" x="37.5" y="445.5" text-anchor="end">9,0</text>
<text class="k" x="26.5" y="479" textLength="27" lengthAdjust="spacing">lunes</text>
<text class="k" x="16.7" y="493.5" textLength="44.6" lengthAdjust="spacing">26/05/14</text>
<text class="k" x="126.5" y="479" textLength="35" lengthAdjust="spacing">martes</text>
<text class="k" x="119.7" y="493.5" textLength="44.6" lengthAdjust="spacing">27/05/14</text>
<text class="k" x="222.5" y="479" textLength="46" lengthAdjust="spacing">miércoles</text>
<text class="k" x="222.7" y="493.5" textLength="44.6" lengthAdjust="spacing">28/05/14</text>
<text class="k" x="331.5" y="479" textLength="35" lengthAdjust="spacing">jueves</text>
<text class="k" x="325.7" y="493.5" textLength="44.6" lengthAdjust="spacing">29/05/14</text>
<text class="k" x="433.5" y="479" textLength="35" lengthAdjust="spacing">viernes</text>
<text class="k" x="427.7" y="493.5" textLength="44.6" lengthAdjust="spacing">30/05/14</text>
<text class="k" x="535.5" y="479" textLength="36" lengthAdjust="spacing">sábado</text>
<text class="k" x="530.7" y="493.5" textLength="44.6" lengthAdjust="spacing">31/05/14</text>
<text class="k" x="635.5" y="479" textLength="41" lengthAdjust="spacing">domingo</text>
<text class="k" x="633.7" y="493.5" textLength="44.6" lengthAdjust="spacing">01/06/14</text>
</svg></body></html>
